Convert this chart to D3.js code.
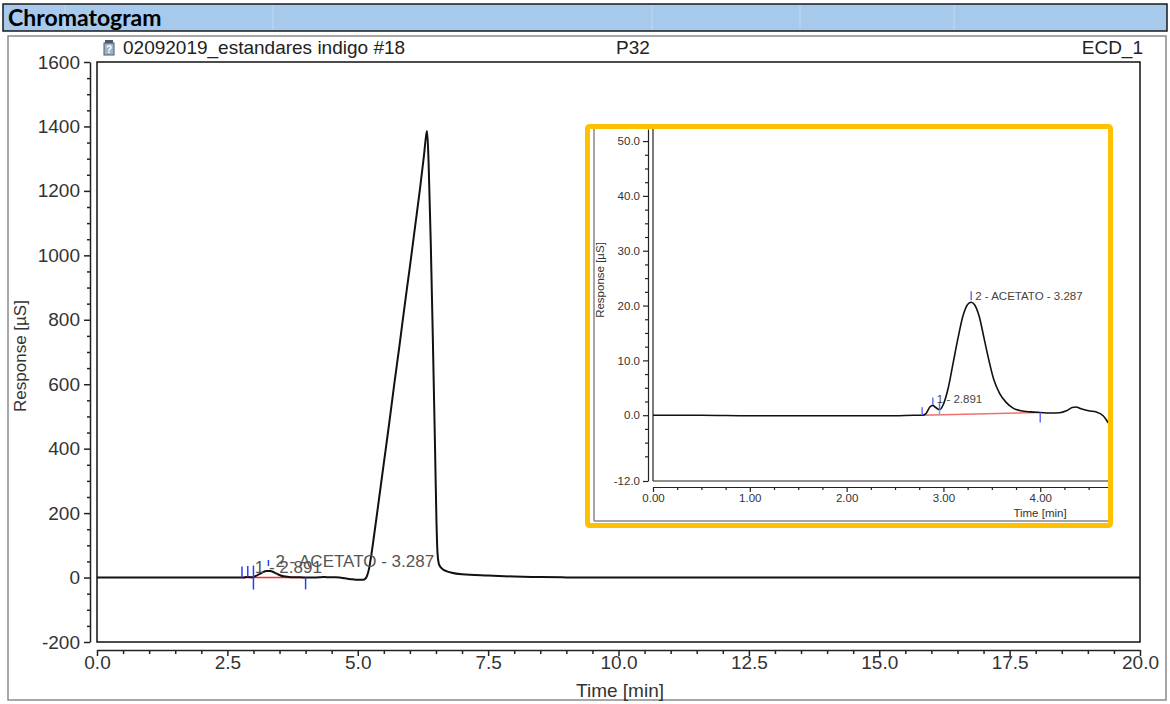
<!DOCTYPE html>
<html>
<head>
<title>Chromatogram</title>
<style>
  body { margin: 0; background: #ffffff; }
  svg { display: block; font-family: "Liberation Sans", Arial, sans-serif; }
  .hdr { font-family: Lato, "Open Sans", sans-serif; font-weight: bold; }
  .axis text { fill: #333; }
  .axis path, .axis line { stroke: #222; }
</style>
<script src="https://cdn.jsdelivr.net/npm/d3@7"></script>
</head>
<body>
<svg id="chart" width="1170" height="704"></svg>
<script>
// signal: time [min] and response [uS]
var timeMin = [0, 0.5, 1.0, 1.5, 2.0, 2.5, 2.7, 2.78, 2.82, 2.86, 2.89, 2.92, 2.96, 3.00, 3.05, 3.10,
  3.15, 3.20, 3.25, 3.287, 3.32, 3.37, 3.42, 3.47, 3.52, 3.58, 3.65, 3.72, 3.80, 3.90, 4.00, 4.10,
  4.20, 4.27, 4.33, 4.37, 4.42, 4.50, 4.58, 4.65, 4.70, 4.75, 4.80, 4.90, 5.00, 5.10, 5.15, 5.18,
  5.22, 5.26, 5.30, 5.40, 5.50, 5.60, 5.70, 5.80, 5.90, 6.00, 6.10, 6.20, 6.27, 6.31, 6.33, 6.36,
  6.40, 6.44, 6.48, 6.51, 6.53, 6.56, 6.62, 6.70, 6.80, 7.00, 7.50, 8.00, 8.50, 9.00, 10.0, 12.0,
  15.0, 20.0];
var responseUS = [0, 0, -0.1, -0.1, -0.1, -0.1, 0, 0, 0.3, 1.5, 1.8, 1.4, 1.0, 2.0, 5.0, 9.5,
  14, 18, 20.2, 20.6, 20.2, 18, 14, 10, 6.5, 4.0, 2.3, 1.3, 0.8, 0.6, 0.5, 0.4,
  0.45, 0.8, 1.4, 1.5, 1.2, 0.8, 0.6, -0.1, -1.3, -2.5, -3.5, -5.5, -7, -7, -3, 6,
  30, 70, 115, 235, 355, 475, 600, 720, 845, 965, 1090, 1215, 1310, 1370, 1386, 1280,
  1040, 740, 420, 170, 75, 40, 27, 20, 15, 10, 6, 3, 1.5, 0.5, 0, 0,
  0, 0];

// integration: peak names, retention times, delimiters and baseline
var peakNames = ["1 - 2.891", "2 - ACETATO - 3.287"];
var peakTimes = [2.891, 3.287];
var valleyTime = 2.96;
var baseTimes = [2.78, 4.00];
var baseResp = [0, 0.5];

// tick labels
var mainXTicks = [0, 2.5, 5, 7.5, 10, 12.5, 15, 17.5, 20];
var mainYTicks = [-200, 0, 200, 400, 600, 800, 1000, 1200, 1400, 1600];
var insetXTicks = [0, 1, 2, 3, 4];
var insetYTicks = [-12, 0, 10, 20, 30, 40, 50];

var svg = d3.select('#chart');

var respAt = function(t) {
  var i = d3.bisectLeft(timeMin, t);
  if (i <= 0) return responseUS[0];
  var t0 = timeMin[i - 1], t1 = timeMin[i];
  return responseUS[i - 1] + (responseUS[i] - responseUS[i - 1]) * (t - t0) / (t1 - t0);
};
var baseAt = function(t) {
  return baseResp[0] + (baseResp[1] - baseResp[0]) * (t - baseTimes[0]) / (baseTimes[1] - baseTimes[0]);
};
// plain hyphen for negatives, like the instrument software
var fmt = function(spec) {
  var f = d3.format(spec);
  return function(v) { return f(v).replace('\u2212', '-'); };
};
var pts = timeMin.map(function(t, i) { return [t, responseUS[i]]; });

// ---- header bar
svg.append('rect').attr('x', 3).attr('y', 4).attr('width', 1164).attr('height', 27)
  .attr('fill', '#a6c9ec').attr('stroke', '#1a1a1a').attr('stroke-width', 1.5);
[65, 273, 652, 800, 954].forEach(function(x) {
  svg.append('line').attr('x1', x).attr('x2', x).attr('y1', 5).attr('y2', 30)
    .attr('stroke', '#c4d9f0').attr('stroke-width', 1);
});
svg.append('text').attr('class', 'hdr').attr('x', 8).attr('y', 26)
  .attr('font-size', 23).attr('fill', '#000').text('Chromatogram');

// outer frame
svg.append('rect').attr('x', 8).attr('y', 36).attr('width', 1158).attr('height', 664)
  .attr('fill', '#fff').attr('stroke', '#8a8a8a').attr('stroke-width', 1.5);

// title row
var icon = svg.append('g').attr('transform', 'translate(104,40)');
icon.append('rect').attr('x', 0).attr('y', 3).attr('width', 10).attr('height', 12)
  .attr('fill', '#9fb3c8').attr('stroke', '#4a5a6a').attr('stroke-width', 1);
icon.append('rect').attr('x', 1).attr('y', 0).attr('width', 8).attr('height', 3).attr('fill', '#4a5a6a');
icon.append('text').attr('x', 5).attr('y', 13).attr('text-anchor', 'middle')
  .attr('font-size', 10).attr('font-weight', 'bold').attr('fill', '#fff').text('?');
svg.append('text').attr('x', 123).attr('y', 54).attr('font-size', 19).attr('fill', '#222')
  .text('02092019_estandares indigo #18');
svg.append('text').attr('x', 633).attr('y', 54).attr('font-size', 19).attr('fill', '#222')
  .attr('text-anchor', 'middle').text('P32');
svg.append('text').attr('x', 1143).attr('y', 54).attr('font-size', 19).attr('fill', '#222')
  .attr('text-anchor', 'end').text('ECD_1');

// ---- main chart
var x = d3.scaleLinear().domain([0, 20]).range([97, 1140]);
var y = d3.scaleLinear().domain([-200, 1600]).range([642, 62]);

var minorY = d3.range(-200, 1601, 50).filter(function(v) { return v % 200 !== 0; });
var minorX = d3.range(0, 20.01, 0.5).filter(function(v) { return v % 2.5 !== 0; });

svg.append('g').attr('class', 'axis').attr('transform', 'translate(90,0)')
  .call(d3.axisLeft(y).tickValues(mainYTicks).tickSize(6).tickSizeOuter(0).tickPadding(4)
    .tickFormat(fmt('d')))
  .call(function(g) { g.selectAll('text').attr('font-size', 19); g.selectAll('line,path').attr('stroke-width', 1.5); });
svg.append('g').attr('class', 'axis').attr('transform', 'translate(90,0)')
  .call(d3.axisLeft(y).tickValues(minorY).tickSize(3).tickSizeOuter(0).tickFormat(''))
  .call(function(g) { g.select('path').remove(); g.selectAll('line').attr('stroke-width', 1.5); });

svg.append('g').attr('class', 'axis').attr('transform', 'translate(0,650)')
  .call(d3.axisBottom(x).tickValues(mainXTicks).tickSize(6).tickSizeOuter(0).tickPadding(0)
    .tickFormat(fmt('.1f')))
  .call(function(g) { g.selectAll('text').attr('font-size', 19); g.selectAll('line,path').attr('stroke-width', 1.5); });
svg.append('g').attr('class', 'axis').attr('transform', 'translate(0,650)')
  .call(d3.axisBottom(x).tickValues(minorX).tickSize(4).tickSizeOuter(0).tickFormat(''))
  .call(function(g) { g.select('path').remove(); g.selectAll('line').attr('stroke-width', 1.5); });

svg.append('text').attr('x', 620).attr('y', 697).attr('text-anchor', 'middle')
  .attr('font-size', 19).attr('fill', '#333').text('Time [min]');
svg.append('text').attr('transform', 'translate(26,356) rotate(-90)').attr('text-anchor', 'middle')
  .attr('font-size', 17).attr('fill', '#333').text('Response [µS]');

svg.append('rect').attr('x', 97).attr('y', 62).attr('width', 1043).attr('height', 580)
  .attr('fill', 'none').attr('stroke', '#111').attr('stroke-width', 1.5);

svg.append('clipPath').attr('id', 'mainClip').append('rect')
  .attr('x', 97).attr('y', 62).attr('width', 1043).attr('height', 580);

var mainG = svg.append('g').attr('clip-path', 'url(#mainClip)');
mainG.append('line').attr('x1', x(baseTimes[0])).attr('x2', x(baseTimes[1]))
  .attr('y1', y(baseResp[0])).attr('y2', y(baseResp[1])).attr('stroke', '#ff2a2a').attr('stroke-width', 1.5);
mainG.append('path').datum(pts)
  .attr('d', d3.line().x(function(d) { return x(d[0]); }).y(function(d) { return y(d[1]); }).curve(d3.curveMonotoneX))
  .attr('fill', 'none').attr('stroke', '#111').attr('stroke-width', 2);

// delimiters on the main chart
var blue = '#2a3cff';
var mk = function(g, t, y1, y2, col) {
  g.append('line').attr('x1', x(t)).attr('x2', x(t)).attr('y1', y1).attr('y2', y2)
    .attr('stroke', col || blue).attr('stroke-width', 1.5);
};
mk(svg, baseTimes[0], y(0) - 11, y(0));
mk(svg, peakTimes[0], y(respAt(peakTimes[0])) - 11, y(respAt(peakTimes[0])));
mk(svg, valleyTime + 0.04, y(0) - 12, y(0) + 12);
mk(svg, peakTimes[1], y(respAt(peakTimes[1])) - 11, y(respAt(peakTimes[1])) - 5);
mk(svg, baseTimes[1], y(baseResp[1]), y(baseResp[1]) + 12);

// the two peak labels overlap in the original report too
peakTimes.forEach(function(t, i) {
  var top = y(respAt(t));
  svg.append('text').attr('x', x(t) + 7).attr('y', top - 4)
    .attr('font-size', 17).attr('fill', '#555').text(peakNames[i]);
});

// ---- inset (zoom on 0-4.7 min)
svg.append('rect').attr('x', 587.5).attr('y', 126.5).attr('width', 523).attr('height', 399)
  .attr('fill', '#fff');

var xi = d3.scaleLinear().domain([0, 4.70]).range([653, 1108]);
var yi = d3.scaleLinear().domain([-12, 52.2]).range([481, 129]);

svg.append('line').attr('x1', 594).attr('x2', 594).attr('y1', 129).attr('y2', 521)
  .attr('stroke', '#888').attr('stroke-width', 1.5);
svg.append('line').attr('x1', 594).attr('x2', 1108).attr('y1', 521).attr('y2', 521)
  .attr('stroke', '#888').attr('stroke-width', 1.5);

var minorYi = d3.range(-10, 52, 2.5).filter(function(v) { return v % 10 !== 0; });
var minorXi = d3.range(0, 4.7, 0.25).filter(function(v) { return v % 1 !== 0; });

svg.append('g').attr('class', 'axis').attr('transform', 'translate(648,0)')
  .call(d3.axisLeft(yi).tickValues(insetYTicks).tickSize(5).tickSizeOuter(0).tickPadding(3)
    .tickFormat(fmt('.1f')))
  .call(function(g) { g.selectAll('text').attr('font-size', 11.5); g.selectAll('line,path').attr('stroke-width', 1.2); });
svg.append('g').attr('class', 'axis').attr('transform', 'translate(648,0)')
  .call(d3.axisLeft(yi).tickValues(minorYi).tickSize(3).tickSizeOuter(0).tickFormat(''))
  .call(function(g) { g.select('path').remove(); g.selectAll('line').attr('stroke-width', 1.2); });

svg.append('g').attr('class', 'axis').attr('transform', 'translate(0,487)')
  .call(d3.axisBottom(xi).tickValues(insetXTicks).tickSize(5).tickSizeOuter(0).tickPadding(2)
    .tickFormat(fmt('.2f')))
  .call(function(g) { g.selectAll('text').attr('font-size', 11.5); g.selectAll('line,path').attr('stroke-width', 1.2); });
svg.append('g').attr('class', 'axis').attr('transform', 'translate(0,487)')
  .call(d3.axisBottom(xi).tickValues(minorXi).tickSize(3).tickSizeOuter(0).tickFormat(''))
  .call(function(g) { g.select('path').remove(); g.selectAll('line').attr('stroke-width', 1.2); });

svg.append('text').attr('x', 1040).attr('y', 517).attr('text-anchor', 'middle')
  .attr('font-size', 11.5).attr('fill', '#333').text('Time [min]');
svg.append('text').attr('transform', 'translate(604,280) rotate(-90)').attr('text-anchor', 'middle')
  .attr('font-size', 11.5).attr('fill', '#333').text('Response [µS]');

svg.append('line').attr('x1', 653).attr('x2', 653).attr('y1', 129).attr('y2', 481)
  .attr('stroke', '#222').attr('stroke-width', 1.2);
svg.append('line').attr('x1', 653).attr('x2', 1108).attr('y1', 481).attr('y2', 481)
  .attr('stroke', '#222').attr('stroke-width', 1.2);

svg.append('clipPath').attr('id', 'insetClip').append('rect')
  .attr('x', 653).attr('y', 129).attr('width', 455).attr('height', 352);
var insG = svg.append('g').attr('clip-path', 'url(#insetClip)');
insG.append('line').attr('x1', xi(baseTimes[0])).attr('x2', xi(baseTimes[1]))
  .attr('y1', yi(baseResp[0])).attr('y2', yi(baseResp[1])).attr('stroke', '#f07070').attr('stroke-width', 1.5);
insG.append('path').datum(pts)
  .attr('d', d3.line().x(function(d) { return xi(d[0]); }).y(function(d) { return yi(d[1]); }).curve(d3.curveMonotoneX))
  .attr('fill', 'none').attr('stroke', '#111').attr('stroke-width', 1.6);

var ib = '#6a6aff';
var mki = function(t, y1, y2, col) {
  svg.append('line').attr('x1', xi(t)).attr('x2', xi(t)).attr('y1', y1).attr('y2', y2)
    .attr('stroke', col || ib).attr('stroke-width', 1.5);
};
mki(baseTimes[0], yi(0) - 8, yi(0));
mki(peakTimes[0], yi(respAt(peakTimes[0])) - 8, yi(respAt(peakTimes[0])) - 1);
mki(valleyTime, yi(respAt(valleyTime)) - 8, yi(respAt(valleyTime)));
mki(valleyTime, yi(respAt(valleyTime)), yi(baseAt(valleyTime)), '#35c8e8');
mki(peakTimes[1], yi(respAt(peakTimes[1])) - 11, yi(respAt(peakTimes[1])) - 2);
mki(baseTimes[1], yi(baseResp[1]), yi(baseResp[1]) + 10);

peakTimes.forEach(function(t, i) {
  svg.append('text').attr('x', xi(t) + 4).attr('y', yi(respAt(t)) - 2)
    .attr('font-size', 11.5).attr('fill', '#444').text(peakNames[i]);
});

// orange highlight border
svg.append('rect').attr('x', 587.5).attr('y', 126.5).attr('width', 523).attr('height', 399)
  .attr('rx', 2).attr('fill', 'none').attr('stroke', '#ffc000').attr('stroke-width', 5);
</script>
</body>
</html>
